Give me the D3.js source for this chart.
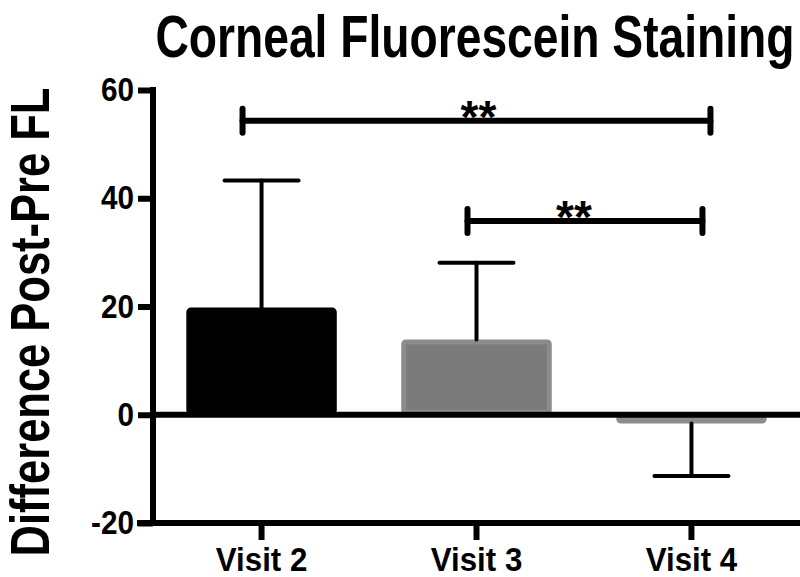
<!DOCTYPE html>
<html>
<head>
<meta charset="utf-8">
<script src="https://cdn.jsdelivr.net/npm/d3@7"></script>
<style>
  body { margin: 0; background: #fff; }
  svg { display: block; }
  text { font-family: "Liberation Sans", Arial, sans-serif; font-weight: bold; fill: #000; }
</style>
</head>
<body>
<div id="container"></div>
<script>
let w = 800;
let h = 577;

// data
let visits = ["Visit 2", "Visit 3", "Visit 4"];
let means = [19.8, 13.9, -1.6];
let errs = [23.5, 14.2, 9.7];      // one-sided error bar length
let barColors = ["#000000", "#7b7b7b", "#7b7b7b"];
let barStrokes = ["#000000", "#8c8c8c", "#8c8c8c"];
let yTicks = [-20, 0, 20, 40, 60];
let comparisons = [
  { from: "Visit 2", to: "Visit 4", level: 54.3, label: "**" },
  { from: "Visit 3", to: "Visit 4", level: 35.8, label: "**" }
];
// bracket end offsets (px) relative to band centres, and label shift
let bracketPad = [[-19, 19], [-9, 11]];
let labelShift = [2, -11];

let svg = d3.select("#container").append("svg")
            .attr("width", w)
            .attr("height", h);

let y = d3.scaleLinear()
          .domain([-20, 60])
          .range([523, 90]);

let x = d3.scaleBand()
          .domain(visits)
          .range([153, 800])
          .paddingInner(0.3)
          .paddingOuter(0.155);

let cx = d => x(d) + x.bandwidth() / 2;

// title
svg.append("text")
   .attr("transform", "translate(475,57) scale(0.77,1)")
   .attr("text-anchor", "middle")
   .style("font-size", "60px")
   .text("Corneal Fluorescein Staining");

// y axis title
svg.append("text")
   .attr("transform", "translate(49,322) rotate(-90) scale(0.777,1)")
   .attr("text-anchor", "middle")
   .style("font-size", "56px")
   .text("Difference Post-Pre FL");

// bars
let data = visits.map((v, i) => ({ v: v, m: means[i], e: errs[i], i: i }));

svg.append("g")
   .selectAll("rect")
   .data(data)
   .enter()
   .append("rect")
   .attr("x", d => x(d.v) + 2.5)
   .attr("width", x.bandwidth() - 5)
   .attr("y", d => Math.min(y(d.m), y(0)) + 2.5)
   .attr("height", d => Math.max(Math.abs(y(d.m) - y(0)) - 5, 1))
   .attr("rx", 2)
   .attr("fill", d => barColors[d.i])
   .attr("stroke", d => barStrokes[d.i])
   .attr("stroke-width", 5);

// error bars (one-sided, away from zero)
let eb = svg.append("g")
            .attr("stroke", "#000")
            .attr("stroke-width", 4)
            .attr("stroke-linecap", "round");

data.forEach(d => {
  let sign = d.m >= 0 ? 1 : -1;
  let tip = d.m + sign * d.e;
  eb.append("line")
    .attr("x1", cx(d.v)).attr("x2", cx(d.v))
    .attr("y1", y(d.m)).attr("y2", y(tip));
  eb.append("line")
    .attr("x1", cx(d.v) - 37).attr("x2", cx(d.v) + 37)
    .attr("y1", y(tip)).attr("y2", y(tip));
});

// zero line
svg.append("line")
   .attr("x1", 153).attr("x2", 800)
   .attr("y1", y(0)).attr("y2", y(0))
   .attr("stroke", "#000")
   .attr("stroke-width", 6);

// significance brackets
let br = svg.append("g")
            .attr("stroke", "#000")
            .attr("stroke-width", 6)
            .attr("stroke-linecap", "round");

comparisons.forEach((c, i) => {
  let x1 = cx(c.from) + bracketPad[i][0];
  let x2 = cx(c.to) + bracketPad[i][1];
  let yy = y(c.level);
  br.append("line").attr("x1", x1).attr("x2", x2).attr("y1", yy).attr("y2", yy);
  br.append("line").attr("x1", x1).attr("x2", x1).attr("y1", yy - 12).attr("y2", yy + 12);
  br.append("line").attr("x1", x2).attr("x2", x2).attr("y1", yy - 12).attr("y2", yy + 12);
  svg.append("text")
     .attr("x", (x1 + x2) / 2 + labelShift[i])
     .attr("y", yy + 12)
     .attr("text-anchor", "middle")
     .style("font-size", "46px")
     .text(c.label);
});

// axes
let yAxis = d3.axisLeft(y)
              .tickValues(yTicks)
              .tickFormat(d => String(d))
              .tickSize(15)
              .tickSizeOuter(0)
              .tickPadding(3);

let gy = svg.append("g")
            .attr("transform", "translate(153,0)")
            .call(yAxis);

let xAxis = d3.axisBottom(x)
              .tickSize(17)
              .tickSizeOuter(0)
              .tickPadding(7);

let gx = svg.append("g")
            .attr("transform", "translate(0,523)")
            .call(xAxis);

[gx, gy].forEach(g => {
  g.select(".domain").attr("stroke", "#000").attr("stroke-width", 6);
  g.selectAll(".tick line").attr("stroke", "#000").attr("stroke-width", 6);
  g.selectAll("text")
   .attr("font-family", null)
   .style("fill", "#000");
});

gy.select(".domain").attr("d", "M0,87V526");
gx.select(".domain").attr("d", "M137,0H800");

gy.selectAll("text")
  .style("font-size", "33px")
  .attr("x", null)
  .attr("transform", "translate(-19,0) scale(0.9,1)");

gx.selectAll("text")
  .style("font-size", "34px")
  .attr("transform", "scale(0.92,1)");
</script>
</body>
</html>
